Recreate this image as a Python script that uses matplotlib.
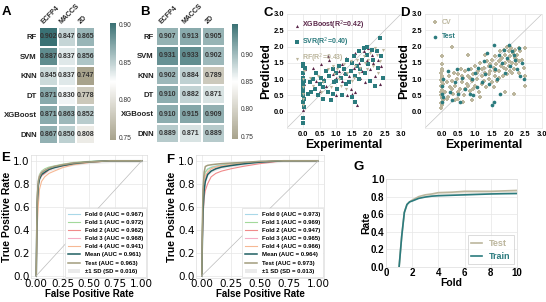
import numpy as np
import matplotlib
matplotlib.use('Agg')
import matplotlib.pyplot as plt
from matplotlib.colors import LinearSegmentedColormap

plt.rcParams['font.family'] = ['Liberation Sans', 'DejaVu Sans']

W, H = 546, 302

# ---------------- data ----------------
models = ['RF', 'SVM', 'KNN', 'DT', 'XGBoost', 'DNN']
feats = ['ECFP4', 'MACCS', '2D']
heat_a = [[0.902, 0.847, 0.865],
          [0.887, 0.837, 0.856],
          [0.845, 0.837, 0.747],
          [0.871, 0.830, 0.778],
          [0.871, 0.863, 0.852],
          [0.867, 0.850, 0.808]]
heat_b = [[0.907, 0.913, 0.905],
          [0.931, 0.933, 0.902],
          [0.902, 0.884, 0.789],
          [0.910, 0.882, 0.871],
          [0.910, 0.915, 0.909],
          [0.889, 0.871, 0.889]]

# panel C
xgb_x = [0.0, 0.0, 0.0, 0.02, 0.0, 0.05, 0.3, 0.5, 0.55, 0.7, 0.8, 0.9, 1.0, 1.1, 1.2, 1.3, 1.4, 1.45,
         1.5, 1.55, 1.6, 1.65, 1.7, 1.8, 1.85, 1.9, 1.95, 2.0, 2.05, 2.1, 2.2, 2.3, 2.35, 2.4, 1.2,
         0.65, 1.0, 1.35, 1.6, 2.15, 0.4, 0.75, 1.25, 1.75]
xgb_y = [0.05, 0.3, 0.6, 0.85, 1.1, 1.3, 1.35, 0.65, 1.45, 0.8, 1.6, 1.15, 0.5, 1.25, 0.95, 1.65, 1.1, 0.7,
         0.55, 1.35, 1.8, 0.2, 1.5, 1.25, 1.85, 0.9, 1.6, 1.95, 1.3, 1.75, 1.1, 1.6, 0.85, 1.4, 1.45,
         1.0, 1.05, 0.5, 0.6, 1.5, 0.95, 1.7, 1.2, 1.05]
svr_x = [0.0, 0.0, 0.0, 0.0, 0.0, 0.0, 0.0, 0.0, 0.0, 0.02, 0.0, 0.02, 0.0, 0.0, 0.05, 0.03,
         0.2, 0.25, 0.3, 0.35, 0.4, 0.45, 0.5, 0.55, 0.6, 0.65, 0.7, 0.75, 0.8, 0.85, 0.9, 0.95,
         1.0, 1.05, 1.1, 1.15, 1.2, 1.25, 1.3, 1.35, 1.4, 1.45, 1.5, 1.5, 1.55, 1.6, 1.65, 1.7,
         1.75, 1.8, 1.85, 1.9, 1.95, 2.0, 2.05, 2.1, 2.15, 2.2, 2.25, 2.3, 2.35, 2.4, 2.45, 1.3,
         0.9, 1.6, 1.7, 1.95, 1.0, 0.6, 0.15]
svr_y = [1.45, 1.4, 1.2, 1.05, 0.9, 0.8, 0.7, 0.6, 0.5, 0.4, 0.3, 0.15, -0.2, -0.35, 1.35, 0.95,
         0.9, 0.6, 1.0, 0.7, 1.2, 0.5, 0.85, 1.05, 0.4, 0.95, 1.25, 0.6, 1.1, 0.35, 1.3, 0.9,
         1.2, 0.7, 1.4, 1.05, 0.5, 1.3, 1.15, 1.6, 0.9, 1.25, 1.5, 0.45, 1.7, 1.1, 1.4, 1.85,
         1.3, 1.6, 1.95, 1.2, 1.75, 1.45, 0.95, 1.9, 1.6, 0.8, 1.85, 1.35, 2.25, 1.7, 1.05, 0.85,
         0.55, 0.3, 1.0, 2.0, 0.95, 0.75, 0.55]
rf_x = [0.0, 0.0, 0.0, 0.02, 0.0, 0.0, 0.3, 0.45, 0.6, 0.75, 0.85, 0.95, 1.05, 1.15, 1.25, 1.35,
        1.45, 1.55, 1.65, 1.75, 1.85, 1.95, 2.05, 2.15, 2.25, 2.35, 2.45, 1.5, 1.9, 0.55, 1.1,
        1.7, 2.0, 0.2, 1.3, 2.2, 0.9, 1.6, 2.3]
rf_y = [0.4, 0.75, 1.0, 1.25, 0.55, 0.2, 0.8, 1.1, 0.9, 1.3, 0.75, 1.15, 1.3, 0.8, 1.45, 1.2,
        1.55, 1.05, 1.6, 1.35, 1.7, 1.3, 1.8, 1.4, 1.75, 1.55, 1.9, 0.95, 1.5, 0.6, 1.0,
        1.2, 1.6, 1.05, 0.7, 1.95, 1.4, 1.4, 1.2]

# panel D
cv_x = [-0.03, 0.01, -0.02, 0.03, 0.0, -0.01, 0.02, -0.03, 0.01, 0.0, -0.02, 0.03, 0.01, -0.01,
        0.02, 0.0, -0.03, 0.01, 0.02, 0.0, 0.01,
        0.1, 0.15, 0.2, 0.22, 0.25, 0.3, 0.3, 0.35, 0.38, 0.4, 0.45, 0.48, 0.5, 0.55, 0.58, 0.6,
        0.65, 0.68, 0.7, 0.75, 0.78, 0.8, 0.85, 0.88, 0.9, 0.95, 1.0, 1.0, 1.05, 1.1, 1.12, 1.15,
        1.2, 1.22, 1.25, 1.3, 1.32, 1.35, 1.4, 1.42, 1.45, 1.5, 1.5, 1.55, 1.58, 1.6, 1.62, 1.65,
        1.7, 1.72, 1.75, 1.78, 1.8, 1.82, 1.85, 1.88, 1.9, 1.92, 1.95, 1.98, 2.0, 2.02, 2.05, 2.08,
        2.1, 2.12, 2.15, 2.18, 2.2, 2.22, 2.25, 2.3, 2.32, 2.35, 2.4, 2.45, 2.48, 2.5, 2.5, 2.15,
        1.9, 1.3, 1.15, 0.9, 0.65, 0.4, 1.6, 1.75, 2.0, 1.85, 1.4, 1.2, 0.95, 0.7, 0.5, 0.3, 0.15,
        2.3, 2.1, 1.95, 1.55, 1.05, 0.8, 0.6, 1.7, 1.45, 2.25, 2.05, 1.25, 0.85]
cv_y = [0.12, 0.2, 0.28, 0.35, 0.42, 0.5, 0.55, 0.62, 0.68, 0.75, 0.8, 0.86, 0.92, 0.98,
        1.05, 1.1, 1.18, 1.25, 1.32, 1.45, 1.7,
        0.6, 0.9, 0.45, 1.1, 0.75, 2.0, 0.95, 0.55, 1.2, 0.8, 1.0, 0.4, 1.15, 0.7, 1.3, 0.9,
        1.05, 0.5, 1.25, 0.85, 1.75, 1.1, 0.65, 1.3, 0.95, 1.15, 0.8, 1.4, 1.0, 1.25, 0.6, 1.5,
        1.1, 0.85, 1.35, 1.2, 0.75, 1.55, 1.0, 1.4, 1.25, 1.6, 0.9, 1.35, 1.1, 1.7, 1.45, 0.95,
        1.55, 1.25, 1.85, 1.4, 1.65, 1.1, 1.9, 1.5, 1.75, 1.3, 2.0, 1.6, 1.85, 1.4, 1.7, 1.95,
        1.5, 1.8, 1.3, 1.65, 1.9, 1.45, 1.75, 1.55, 1.2, 1.85, 1.6, 1.35, 1.95, 1.1, 0.8, 0.55,
        0.6, 1.75, 0.45, 0.35, 0.3, 0.35, 1.25, 1.6, 1.55, 1.35, 1.15, 1.3, 0.7, 0.7, 0.6, 0.7, 0.4,
        1.95, 1.2, 1.15, 0.75, 1.2, 0.8, 1.1, 1.05, 1.45, 1.6, 1.25, 0.95, 1.05]
test_x = [0.0, 0.02, 0.0, 0.03, 0.05, 0.2, 0.25, 0.3, 0.4, 0.45, 0.5, 0.55, 0.6, 0.7, 0.8, 0.85,
          0.9, 1.0, 1.05, 1.1, 1.2, 1.25, 1.3, 1.4, 1.45, 1.5, 1.55, 1.55, 1.6, 1.7, 1.75, 1.8,
          1.85, 1.9, 1.95, 2.0, 2.05, 2.1, 2.2, 2.25, 2.3, 2.35, 2.4, 2.45, 1.35, 0.95, 1.65, 2.15]
test_y = [0.3, 0.55, 0.8, 1.0, 0.45, 1.25, 0.6, 0.35, 0.9, 1.3, 0.55, 0.3, 1.05, 0.7, 1.3, 0.55,
          1.0, 1.2, 0.75, 1.35, 0.9, 1.55, 1.15, 0.85, 1.4, 0.2, 0.3, 2.05, 1.3, 1.75, 0.55, 1.5,
          1.9, 1.2, 1.65, 2.05, 1.4, 1.85, 1.6, 1.3, 1.95, 1.1, 1.5, 1.0, 1.8, 0.5, 1.0, 1.75]

# panels E / F (ROC)
fpr = [0, 0.005, 0.01, 0.02, 0.03, 0.05, 0.08, 0.12, 0.17, 0.25, 0.35, 0.5, 0.7, 1.0]
roc_e = {
    'Fold 0 (AUC = 0.967)': [0, 0.45, 0.68, 0.82, 0.86, 0.89, 0.91, 0.93, 0.945, 0.96, 0.975, 0.99, 1.0, 1.0],
    'Fold 1 (AUC = 0.972)': [0, 0.5, 0.72, 0.84, 0.88, 0.91, 0.93, 0.945, 0.955, 0.97, 0.985, 0.995, 1.0, 1.0],
    'Fold 2 (AUC = 0.962)': [0, 0.4, 0.62, 0.79, 0.84, 0.87, 0.89, 0.92, 0.94, 0.955, 0.97, 0.985, 1.0, 1.0],
    'Fold 3 (AUC = 0.968)': [0, 0.5, 0.7, 0.83, 0.87, 0.9, 0.92, 0.935, 0.95, 0.965, 0.98, 0.99, 1.0, 1.0],
    'Fold 4 (AUC = 0.941)': [0, 0.3, 0.45, 0.62, 0.75, 0.82, 0.86, 0.89, 0.91, 0.94, 0.965, 0.985, 1.0, 1.0],
}
mean_e = [0, 0.42, 0.64, 0.79, 0.84, 0.88, 0.9, 0.925, 0.94, 0.958, 0.975, 0.99, 1.0, 1.0]
test_e = [0, 0.45, 0.7, 0.82, 0.86, 0.895, 0.915, 0.935, 0.95, 0.965, 0.98, 0.99, 1.0, 1.0]
sd_e = 0.016
roc_f = {
    'Fold 0 (AUC = 0.973)': [0, 0.4, 0.65, 0.85, 0.9, 0.93, 0.945, 0.955, 0.965, 0.975, 0.985, 0.995, 1.0, 1.0],
    'Fold 1 (AUC = 0.969)': [0, 0.45, 0.7, 0.86, 0.9, 0.925, 0.94, 0.95, 0.96, 0.97, 0.98, 0.99, 1.0, 1.0],
    'Fold 2 (AUC = 0.947)': [0, 0.3, 0.5, 0.68, 0.74, 0.8, 0.86, 0.89, 0.91, 0.93, 0.95, 0.975, 1.0, 1.0],
    'Fold 3 (AUC = 0.965)': [0, 0.35, 0.6, 0.8, 0.86, 0.9, 0.93, 0.945, 0.955, 0.965, 0.975, 0.99, 1.0, 1.0],
    'Fold 4 (AUC = 0.966)': [0, 0.4, 0.62, 0.82, 0.87, 0.9, 0.93, 0.945, 0.955, 0.965, 0.98, 0.99, 1.0, 1.0],
}
mean_f = [0, 0.3, 0.55, 0.74, 0.82, 0.88, 0.91, 0.93, 0.945, 0.958, 0.972, 0.988, 1.0, 1.0]
test_f = [0, 0.45, 0.75, 0.9, 0.95, 0.96, 0.965, 0.97, 0.975, 0.98, 0.985, 0.995, 1.0, 1.0]
sd_f = 0.013

# panel G
fold = [1, 1.2, 1.4, 1.6, 1.8, 2, 2.5, 3, 3.5, 4, 5, 6, 7, 8, 9, 10]
train_rate = [0, 0.35, 0.62, 0.71, 0.74, 0.75, 0.78, 0.795, 0.805, 0.81, 0.815, 0.82, 0.825, 0.83, 0.833, 0.835]
test_rate = [0, 0.35, 0.62, 0.71, 0.74, 0.76, 0.8, 0.82, 0.83, 0.845, 0.85, 0.86, 0.86, 0.86, 0.865, 0.87]

# ---------------- style ----------------
teal = '#2b7b7e'
tan = '#bcb69d'
purple = '#5a2649'
fold_cols = ['#a9d8e8', '#a3d99b', '#f08a8a', '#f5adc4', '#f6b894']
cmap = LinearSegmentedColormap.from_list('tw', ['#a8a38c', '#ffffff', '#3a7174'])
grid_c = '#e6e6e6'


def px(l, t, r, b):
    return [l / W, 1 - b / H, (r - l) / W, (b - t) / H]


fig = plt.figure(figsize=(W / 100, H / 100), dpi=100)


def heat(rect, crect, vals, vmin, vmax):
    ax = fig.add_axes(px(*rect))
    cax = fig.add_axes(px(*crect))
    m = ax.pcolormesh(np.array(vals), cmap=cmap, vmin=vmin, vmax=vmax,
                      edgecolors='white', linewidth=0.3)
    ax.set_xlim(0, 3)
    ax.set_ylim(6, 0)
    for i in range(6):
        for j in range(3):
            ax.text(j + 0.5, i + 0.5, '%.3f' % vals[i][j], ha='center', va='center',
                    fontsize=5, fontweight='bold', color='#333333')
    ax.set_yticks(np.arange(6) + 0.5)
    ax.set_yticklabels(models, fontsize=5.6, fontweight='bold', color='#222222')
    ax.xaxis.tick_top()
    ax.set_xticks(np.arange(3) + 0.3)
    ax.set_xticklabels(feats, rotation=45, ha='left', rotation_mode='anchor',
                       fontsize=5, fontweight='bold', color='#222222')
    ax.tick_params(length=0, pad=1.5)
    for s in ax.spines.values():
        s.set_visible(False)
    cb = fig.colorbar(m, cax=cax)
    cb.set_ticks([0.75, 0.80, 0.85, 0.90])
    cb.set_ticklabels(['0.75', '0.80', '0.85', '0.90'])
    cb.outline.set_visible(False)
    cax.tick_params(length=0, labelsize=4.8, pad=2, labelcolor='#333333')


heat((39, 27, 95, 144), (110, 23, 116, 140), heat_a, 0.747, 0.902)
heat((156, 27, 225, 143), (232, 24, 238, 139), heat_b, 0.745, 0.955)


def style_scatter(ax):
    ax.set_xlim(-0.5, 3.0)
    ax.set_ylim(-0.5, 3.0)
    ax.set_xticks(np.arange(0, 3.01, 0.5))
    ax.set_yticks(np.arange(0, 3.01, 0.5))
    ax.grid(color=grid_c, lw=0.5)
    ax.set_axisbelow(True)
    ax.tick_params(length=0, labelsize=5.4, pad=2)
    for lbl in ax.get_xticklabels() + ax.get_yticklabels():
        lbl.set_fontweight('bold')
    for s in ax.spines.values():
        s.set_color(grid_c)
        s.set_linewidth(0.5)
    ax.plot([-0.5, 3], [-0.5, 3], color='#c4c4c4', lw=0.5, zorder=1)
    ax.set_xlabel('Experimental', fontsize=8.8, fontweight='bold', labelpad=1)
    ax.set_ylabel('Predicted', fontsize=8.8, fontweight='bold', labelpad=1)


# C
axc = fig.add_axes(px(287, 14, 401, 128))
style_scatter(axc)
axc.scatter(xgb_x, xgb_y, marker='^', s=5, c=purple, lw=0, label='XGBoost(R$^2$=0.42)', zorder=3)
axc.scatter(svr_x, svr_y, marker='s', s=6, c=teal, lw=0, label='SVR(R$^2$=0.40)', zorder=3)
axc.scatter(rf_x, rf_y, marker='v', s=5, c=tan, lw=0, label='RF(R$^2$=0.43)', zorder=3)
leg = axc.legend(loc='upper left', frameon=False, prop={'size': 5, 'weight': 'bold'},
                 handletextpad=0.1, borderaxespad=0.3, labelspacing=0.45, handlelength=1.4)
for t, c in zip(leg.get_texts(), [purple, teal, tan]):
    t.set_color(c)

# D
axd = fig.add_axes(px(425, 14, 542, 128))
style_scatter(axd)
axd.scatter(cv_x, cv_y, marker='P', s=7, c=tan, lw=0, label='CV', zorder=3)
axd.scatter(test_x, test_y, marker='o', s=7, c=teal, lw=0, label='Test', zorder=4)
leg = axd.legend(loc='upper left', frameon=False, prop={'size': 5, 'weight': 'bold'},
                 handletextpad=0.3, borderaxespad=0.3, labelspacing=1.1, handlelength=1.4)
for t, c in zip(leg.get_texts(), [tan, teal]):
    t.set_color(c)


def roc(rect, folds, mean, test, sd, test_lbl, mean_lbl, sd_lbl):
    ax = fig.add_axes(px(*rect))
    for (lbl, tpr), c in zip(folds.items(), fold_cols):
        ax.plot(fpr, tpr, color=c, lw=0.8, label=lbl)
    lo = np.clip(np.array(mean) - sd, 0, 1)
    hi = np.clip(np.array(mean) + sd, 0, 1)
    ax.fill_between(fpr, lo, hi, color='#dddddd', alpha=0.6, lw=0, label=sd_lbl)
    ax.plot(fpr, mean, color='#1f5f62', lw=1.1, label=mean_lbl)
    ax.plot(fpr, test, color='#a29d7d', lw=1.1, label=test_lbl)
    ax.plot([0, 1], [0, 1], color='#bbbbbb', lw=0.5)
    ax.set_xlim(-0.05, 1.05)
    ax.set_ylim(-0.02, 1.05)
    ax.set_xticks([0, 0.25, 0.5, 0.75, 1.0])
    ax.set_yticks([0, 0.2, 0.4, 0.6, 0.8, 1.0])
    ax.grid(color=grid_c, lw=0.5)
    ax.set_axisbelow(True)
    ax.tick_params(length=0, labelsize=7.5, pad=1, labelfontfamily='DejaVu Sans')
    for s in ax.spines.values():
        s.set_color('#dddddd')
        s.set_linewidth(0.5)
    ax.set_xlabel('False Positive Rate', fontsize=7, fontweight='bold', labelpad=0)
    ax.set_ylabel('True Positive Rate', fontsize=7.5, fontweight='bold', labelpad=1)
    h, l = ax.get_legend_handles_labels()
    order = [0, 1, 2, 3, 4, 6, 7, 5]
    leg = ax.legend([h[i] for i in order], [l[i] for i in order], loc='lower right',
                    prop={'size': 4.3, 'weight': 'bold'}, handlelength=2.0, labelspacing=0.5,
                    borderpad=0.5, borderaxespad=0.2, framealpha=1, edgecolor='#dddddd',
                    fancybox=False)
    leg.get_frame().set_linewidth(0.5)
    return ax


roc((31, 155, 147, 278), roc_e, mean_e, test_e, sd_e,
    'Test (AUC = 0.963)', 'Mean (AUC = 0.961)', '\u00b11 SD (SD = 0.016)')
roc((196, 155, 324, 278), roc_f, mean_f, test_f, sd_f,
    'Test (AUC = 0.973)', 'Mean (AUC = 0.964)', '\u00b11 SD (SD = 0.013)')

# G
axg = fig.add_axes(px(386, 179, 517, 267))
axg.fill_between(fold, train_rate, test_rate, color=tan, alpha=0.25, lw=0)
axg.plot(fold, test_rate, color=tan, lw=1.2, label='Test')
axg.plot(fold, train_rate, color=teal, lw=1.2, label='Train')
axg.set_xlim(0, 10)
axg.set_ylim(0, 1.0)
axg.set_xticks([0, 2, 4, 6, 8, 10])
axg.set_yticks([0, 0.2, 0.4, 0.6, 0.8, 1.0])
axg.grid(color=grid_c, lw=0.5)
axg.set_axisbelow(True)
axg.tick_params(length=0, labelsize=7, pad=1)
for lbl in axg.get_xticklabels() + axg.get_yticklabels():
    lbl.set_fontweight('bold')
for s in axg.spines.values():
    s.set_color('#dddddd')
    s.set_linewidth(0.5)
axg.set_xlabel('Fold', fontsize=7.5, fontweight='bold', labelpad=0)
axg.set_ylabel('Rate', fontsize=7.5, fontweight='bold', labelpad=0)
leg = axg.legend(loc='lower right', prop={'size': 6.5, 'weight': 'bold'}, handlelength=1.2,
                 fancybox=False, edgecolor='#cccccc', borderaxespad=0.3, labelspacing=0.4)
leg.get_frame().set_linewidth(0.6)
for t, c in zip(leg.get_texts(), [tan, teal]):
    t.set_color(c)

# panel letters
for lt, x, y in [('A', 6, 12), ('B', 145, 12), ('C', 268, 13), ('D', 405, 13),
                 ('E', 6, 158), ('F', 170, 160), ('G', 359, 167)]:
    fig.text(x / W, 1 - y / H, lt, fontsize=9.5, fontweight='bold', ha='center', va='center')

fig.savefig('out.png', dpi=100)
